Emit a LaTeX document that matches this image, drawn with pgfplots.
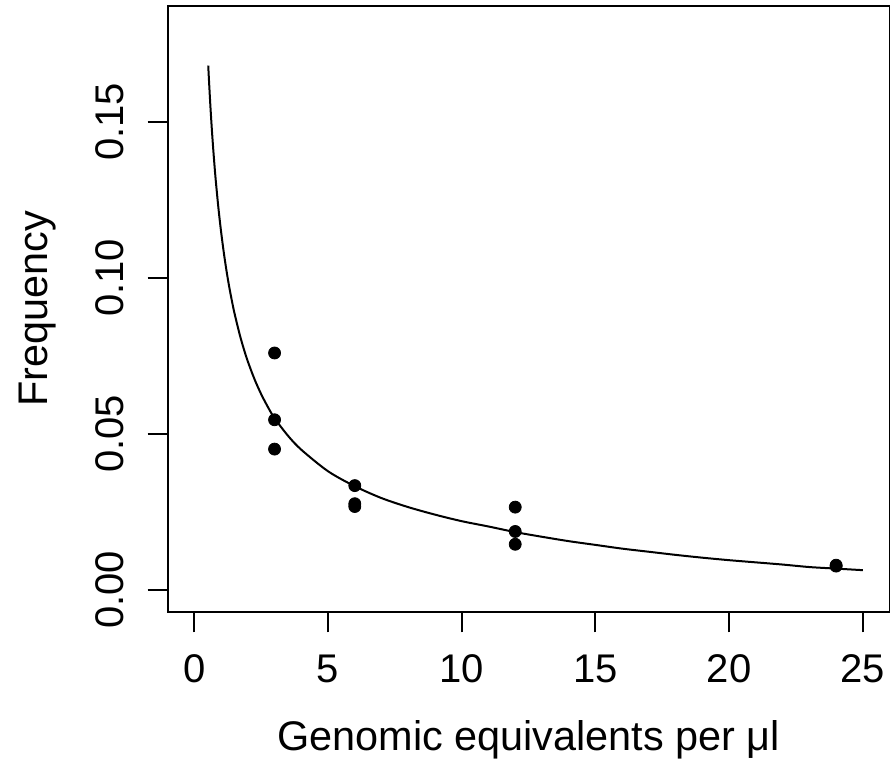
\documentclass[border=0pt]{standalone}
\usepackage{pgfplots}
\pgfplotsset{compat=1.18}
\usepackage{fontspec}
\setmainfont{Liberation Sans}
\begin{document}
\begin{tikzpicture}[font=\fontsize{20pt}{24pt}\selectfont]
\path[use as bounding box] (-83.8pt,-78.85pt) rectangle (361.2pt,306.15pt);
\begin{axis}[
  at={(0pt,0pt)}, anchor=south west,
  scale only axis, width=361pt, height=303.3pt,
  xmin=-1, xmax=26, ymin=-0.0072, ymax=0.1872,
  xtick={0,5,10,15,20,25}, xticklabels={0,5,10,15,20,25},
  ytick={0,0.05,0.1,0.15}, yticklabels={0.00,0.05,0.10,0.15},
  tick pos=left, tick align=outside, major tick length=10pt,
  axis line style={line width=1pt},
  every tick/.style={line width=1pt, black},
  tick label style={font=\fontsize{20pt}{24pt}\selectfont},
  xticklabel style={anchor=base, yshift=-25pt},
  yticklabel style={rotate=90, anchor=base, yshift=12pt},
  label style={font=\fontsize{20.7pt}{24pt}\selectfont},
  xlabel={Genomic equivalents per μl},
  xlabel style={at={(axis description cs:0.5,0)}, anchor=base, yshift=-68.9pt},
  ylabel={Frequency},
  ylabel style={at={(axis description cs:0,0.5)}, anchor=base, yshift=60pt},
  clip=false,
]
\addplot[black, line width=1pt, smooth, tension=0.5] coordinates {
(0.52,0.1680) (0.55,0.1629) (0.60,0.1551) (0.65,0.1482) (0.70,0.1420)
(0.75,0.1364) (0.80,0.1313) (0.90,0.1224) (1.00,0.1148) (1.10,0.1082)
(1.20,0.1024) (1.30,0.0973) (1.40,0.0928) (1.50,0.0887) (1.70,0.0817)
(1.85,0.0772) (2.00,0.0732) (2.25,0.0675) (2.50,0.0627) (2.75,0.0586)
(3.00,0.0550) (3.50,0.0494) (4.00,0.0449) (5.00,0.0380) (6.00,0.0332)
(7.00,0.0294) (8.00,0.0265) (9.00,0.0241) (10.00,0.0220) (11.00,0.0203)
(12.00,0.0185) (13.00,0.0170) (14.00,0.0156) (15.00,0.0144) (16.00,0.0132)
(17.00,0.0122) (18.00,0.0112) (19.00,0.0103) (20.00,0.0095) (21.00,0.0088)
(22.00,0.0081) (23.00,0.0073) (24.00,0.0068) (25.00,0.0063)
};
\addplot[only marks, mark=*, mark size=3pt, black] coordinates {
(3,0.0759) (3,0.0545) (3,0.0451)
(6,0.0334) (6,0.0276) (6,0.0267)
(12,0.0265) (12,0.0187) (12,0.0146)
(24,0.0076) (24,0.0079)
};
\end{axis}
\end{tikzpicture}
\end{document}
